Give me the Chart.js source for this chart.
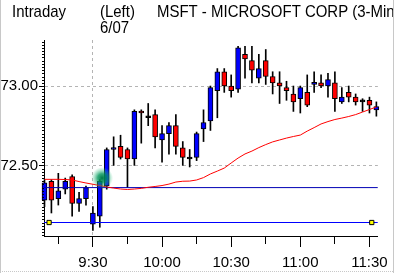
<!DOCTYPE html>
<html>
<head>
<meta charset="utf-8">
<script src="https://cdn.jsdelivr.net/npm/chart.js@4"></script>
<style>
  html, body { margin: 0; padding: 0; background: #fff; }
  canvas { display: block; }
</style>
</head>
<body>
<canvas id="chart" width="395" height="273"></canvas>
<script>
// 3-minute bars, MSFT 6/07
const times = ["9:09","9:12","9:15","9:18","9:21","9:24","9:27","9:30","9:33","9:36",
  "9:39","9:42","9:45","9:48","9:51","9:54","9:57","10:00","10:03","10:06",
  "10:09","10:12","10:15","10:18","10:21","10:24","10:27","10:30","10:33","10:36",
  "10:39","10:42","10:45","10:48","10:51","10:54","10:57","11:00","11:03","11:06",
  "11:09","11:12","11:15","11:18","11:21","11:24","11:27","11:30","11:33"];
const opens = [72.28,72.40,72.29,72.35,72.43,72.26,72.29,72.13,72.18,72.37,
  72.60,72.62,72.60,72.54,72.84,72.80,72.82,72.66,72.70,72.75,
  72.61,72.54,72.55,72.73,72.78,72.97,73.09,73.00,72.98,73.20,
  73.16,73.05,73.16,73.06,73.02,72.99,72.95,72.92,72.96,73.01,
  73.02,73.00,73.02,72.90,72.96,72.93,72.90,72.91,72.85];
const highs = [72.41,72.41,72.45,72.42,72.44,72.33,72.37,72.24,72.41,72.61,
  72.68,72.69,72.61,72.85,72.85,72.89,72.85,72.75,72.77,72.82,
  72.65,72.60,72.71,72.85,73.00,73.11,73.11,73.07,73.25,73.25,
  73.25,73.20,73.23,73.09,73.09,73.03,73.00,73.00,73.07,73.09,
  73.07,73.08,73.09,72.99,73.00,72.95,72.92,72.93,72.90];
const lows = [72.24,72.20,72.25,72.32,72.18,72.21,72.25,72.09,72.11,72.35,
  72.50,72.54,72.36,72.50,72.64,72.75,72.61,72.52,72.57,72.57,
  72.50,72.49,72.53,72.65,72.72,72.80,72.96,72.93,72.96,73.05,
  73.02,73.02,73.01,72.95,72.89,72.91,72.84,72.83,72.87,72.96,
  72.99,72.93,72.84,72.89,72.90,72.88,72.84,72.83,72.81];
const closes = [72.39,72.28,72.34,72.40,72.26,72.29,72.36,72.20,72.40,72.60,
  72.61,72.55,72.54,72.84,72.83,72.80,72.68,72.70,72.75,72.62,
  72.55,72.54,72.70,72.77,72.99,73.09,73.00,72.97,73.24,73.17,
  73.10,73.11,73.06,73.02,73.00,72.97,72.90,72.99,72.88,73.02,
  73.00,73.04,72.92,72.93,72.93,72.90,72.90,72.88,72.87];
const movingAvg = [72.412,72.412,72.412,72.411,72.408,72.398,72.389,72.381,72.373,72.364,
  72.357,72.351,72.348,72.351,72.355,72.362,72.367,72.373,72.382,72.395,
  72.400,72.401,72.408,72.423,72.446,72.464,72.483,72.515,72.546,72.572,
  72.590,72.612,72.631,72.648,72.660,72.672,72.682,72.691,72.716,72.738,
  72.761,72.776,72.789,72.798,72.808,72.820,72.836,72.852,72.868];
const refLevels = [72.36, 72.14];
const refColors = ["#0000b4", "#0000ff"];
const markerTimes = ["9:11", "11:31"];
const glowTime = "9:34";
const glowPrice = 72.42;
const dayStart = "9:30";
const yTickValues = [72.50, 73.00];
const xTickTimes = ["9:15","9:30","9:45","10:00","10:15","10:30","10:45","11:00","11:15","11:30"];
const xLabelTimes = ["9:30","10:00","10:30","11:00","11:30"];

const FONT = '"Liberation Sans", Arial, sans-serif';
const X_MIN = 548.786, X_MAX = 693.643;
const Y_MIN = 72.055, Y_MAX = 73.29;

function toMin(s) {
  const p = s.split(":");
  return +p[0] * 60 + +p[1];
}
function fmt(v) {
  const h = Math.floor(v / 60), m = Math.round(v - h * 60);
  return h + ":" + String(m).padStart(2, "0");
}

const t = times.map(toMin);
const bodyColors = opens.map((o, i) => closes[i] > o ? "#0000ff" : closes[i] < o ? "#ff0000" : "#000000");

// narrow header text, like the original bitmap font
function narrowText(c, s, x, y) {
  c.save();
  c.scale(0.88, 1);
  c.fillText(s, x / 0.88, y);
  c.restore();
}

const decorations = {
  id: "decorations",
  beforeDraw(chart) {
    const c = chart.ctx;
    c.save();
    c.fillStyle = "#fff";
    c.fillRect(0, 0, chart.width, chart.height);
    c.restore();
  },
  afterDatasetsDraw(chart) {
    const c = chart.ctx, xs = chart.scales.x, ys = chart.scales.y;
    const gx = xs.getPixelForValue(toMin(glowTime)), gy = ys.getPixelForValue(glowPrice);
    const g = c.createRadialGradient(gx, gy, 0, gx, gy, 11);
    g.addColorStop(0, "rgba(0,120,70,1)");
    g.addColorStop(0.4, "rgba(0,150,90,0.8)");
    g.addColorStop(1, "rgba(80,210,150,0)");
    c.save();
    c.fillStyle = g;
    c.beginPath();
    c.arc(gx, gy, 11, 0, Math.PI * 2);
    c.fill();
    c.restore();
  },
  afterDraw(chart) {
    const c = chart.ctx, xs = chart.scales.x, ys = chart.scales.y, a = chart.chartArea;
    c.save();
    c.strokeStyle = "#000";
    c.lineWidth = 1;
    c.beginPath();
    // minor price ticks every 0.02
    for (let k = Math.ceil(Y_MIN * 50); k <= Math.floor(Y_MAX * 50); k++) {
      const y = Math.round(ys.getPixelForValue(k / 50)) + 0.5;
      c.moveTo(a.left - 2, y);
      c.lineTo(a.left, y);
    }
    // time ticks, longer where labelled
    xTickTimes.forEach(s => {
      const x = Math.round(xs.getPixelForValue(toMin(s)) - 0.5) + 0.5;
      const len = xLabelTimes.includes(s) ? 11 : 8;
      c.moveTo(x, a.bottom);
      c.lineTo(x, a.bottom + len);
    });
    c.stroke();

    // header text
    c.fillStyle = "#000";
    c.font = "17px " + FONT;
    c.textBaseline = "alphabetic";
    narrowText(c, "Intraday", 12, 17);
    narrowText(c, "(Left)", 100, 17);
    narrowText(c, "MSFT - MICROSOFT CORP (3-Minute)", 157, 17);
    narrowText(c, "6/07", 100, 33);

    // window frame
    c.strokeStyle = "#c8c8c8";
    c.beginPath();
    c.moveTo(0.5, 0); c.lineTo(0.5, chart.height);
    c.moveTo(393.5, 0); c.lineTo(393.5, chart.height);
    c.stroke();
    c.setLineDash([1, 1]);
    c.beginPath();
    c.moveTo(0, 271.5); c.lineTo(394, 271.5);
    c.stroke();
    c.restore();
  }
};

new Chart(document.getElementById("chart"), {
  type: "bar",
  data: {
    datasets: [
      {
        type: "line",
        data: t.map((x, i) => ({ x, y: movingAvg[i] })),
        borderColor: "#ff0000",
        borderWidth: 1,
        pointRadius: 0,
        tension: 0,
        order: 0
      },
      {
        type: "scatter",
        data: markerTimes.map(s => ({ x: toMin(s), y: refLevels[1] })),
        pointStyle: "rect",
        pointRadius: 3,
        backgroundColor: "#ffff00",
        borderColor: "#000",
        borderWidth: 1,
        order: 0
      },
      ...refLevels.map((lv, i) => ({
        type: "line",
        data: [{ x: X_MIN, y: lv }, { x: X_MAX, y: lv }],
        borderColor: refColors[i],
        borderWidth: 1,
        pointRadius: 0,
        order: 1
      })),
      {
        data: t.map((x, i) => ({ x, y: [opens[i], closes[i]] })),
        backgroundColor: bodyColors,
        borderColor: "#000",
        borderWidth: 1,
        borderSkipped: false,
        barThickness: 5,
        minBarLength: 2,
        grouped: false,
        clip: false,
        order: 2
      },
      {
        data: t.map((x, i) => ({ x, y: [lows[i], highs[i]] })),
        backgroundColor: "#000",
        borderWidth: 0,
        barThickness: 1,
        grouped: false,
        clip: false,
        order: 3
      }
    ]
  },
  options: {
    responsive: false,
    animation: false,
    devicePixelRatio: 1,
    layout: { padding: { left: 0, top: 40, right: 13, bottom: 0 } },
    plugins: {
      legend: { display: false },
      tooltip: { enabled: false },
      title: { display: false }
    },
    scales: {
      x: {
        type: "linear",
        min: X_MIN,
        max: X_MAX,
        offset: false,
        afterBuildTicks: s => { s.ticks = xTickTimes.map(v => ({ value: toMin(v) })); },
        afterFit: s => { s.height = 37; },
        grid: {
          offset: false,
          color: c => (c.tick && c.tick.value === toMin(dayStart)) ? "#b4b4b4" : "rgba(0,0,0,0)",
          tickLength: 11,
          tickColor: "rgba(0,0,0,0)"
        },
        border: { color: "#000", width: 1, dash: [3, 3] },
        ticks: {
          autoSkip: false,
          maxRotation: 0,
          padding: 7,
          color: "#000",
          font: { family: FONT, size: 15 },
          callback: v => xLabelTimes.includes(fmt(v)) ? fmt(v) : ""
        }
      },
      y: {
        min: Y_MIN,
        max: Y_MAX,
        afterBuildTicks: s => { s.ticks = yTickValues.map(v => ({ value: v })); },
        afterFit: s => { s.width = 44; },
        grid: { color: "#b4b4b4", tickColor: "#000", tickLength: 5 },
        border: { color: "#000", width: 1, dash: [3, 3] },
        ticks: {
          padding: 1,
          color: "#000",
          font: { family: FONT, size: 15 },
          callback: v => v.toFixed(2)
        }
      }
    }
  },
  plugins: [decorations]
});
</script>
</body>
</html>
